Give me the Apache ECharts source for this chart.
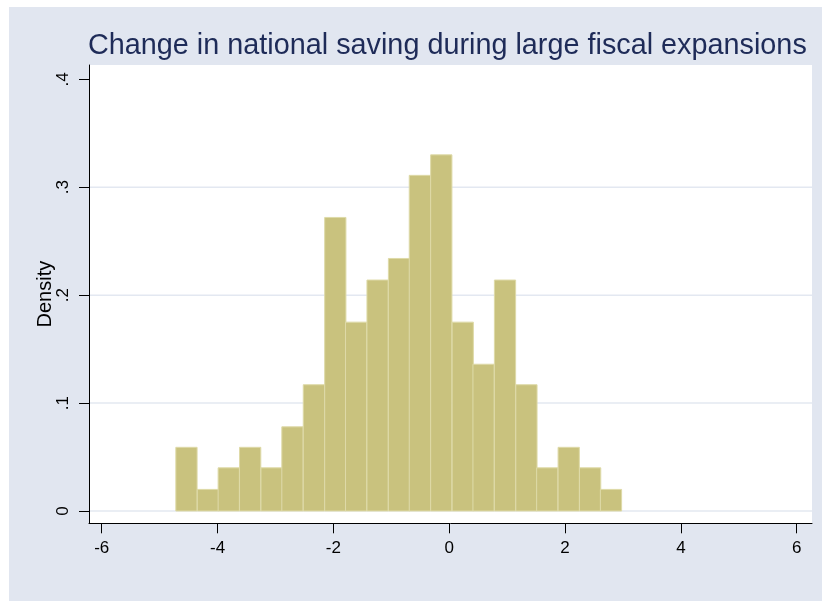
<!DOCTYPE html>
<html>
<head>
<meta charset="utf-8">
<script src="https://cdn.jsdelivr.net/npm/echarts@6/dist/echarts.min.js"></script>
<style>
html,body{margin:0;padding:0;background:#ffffff;}
#chart{width:822px;height:601px;}
</style>
</head>
<body>
<div id="chart"></div>
<script>
// ---- data ----
const titleText = 'Change in national saving during large fiscal expansions';
const yAxisTitle = 'Density';
const binStarts = [-4.72, -4.35, -3.99, -3.62, -3.25, -2.89, -2.52, -2.15, -1.79, -1.42, -1.05,
                   -0.69, -0.32, 0.05, 0.41, 0.78, 1.15, 1.51, 1.88, 2.25, 2.61];
const binWidth = 0.367;
const densities = [0.059, 0.020, 0.040, 0.059, 0.040, 0.078, 0.117, 0.272, 0.175, 0.214, 0.234,
                   0.311, 0.330, 0.175, 0.136, 0.214, 0.117, 0.040, 0.059, 0.040, 0.020];
const xTicks = [-6, -4, -2, 0, 2, 4, 6];
const yTicks = [0, 0.1, 0.2, 0.3, 0.4];
const yTickLabels = ['0', '.1', '.2', '.3', '.4'];
const gridLineValues = [0, 0.1, 0.2, 0.3];

// ---- layout ----
const FONT = '"Liberation Sans", Arial, sans-serif';
const plotL = 89, plotR = 812, plotT = 65, plotB = 523.3;     // white plot region
const dataL = 101.7, dataR = 796.7, dataT = 79.3, dataB = 511; // pixel spots of -6, 6, .4, 0
const W = 822, H = 601;
const pxX = (dataR - dataL) / (xTicks[xTicks.length - 1] - xTicks[0]);
const pxY = (dataB - dataT) / (yTicks[yTicks.length - 1] - yTicks[0]);
const xMin = xTicks[0] - (dataL - plotL) / pxX;
const xMax = xTicks[xTicks.length - 1] + (plotR - dataR) / pxX;
const yMin = yTicks[0] - (plotB - dataB) / pxY;
const yMax = yTicks[yTicks.length - 1] + (dataT - plotT) / pxY;

const chart = echarts.init(document.getElementById('chart'), null, {renderer: 'canvas'});

const barData = binStarts.map((s, i) => [s, s + binWidth, densities[i]]);

chart.setOption({
  animation: false,
  backgroundColor: '#ffffff',
  graphic: [{
    type: 'rect', z: -100, silent: true,
    shape: {x: 9, y: 7, width: W - 9, height: H - 7},
    style: {fill: '#E1E6F0'}
  }],
  title: {
    text: titleText,
    left: 83, top: 27,
    textStyle: {fontFamily: FONT, fontSize: 28.8, fontWeight: 'normal', color: '#1E2B58'}
  },
  grid: {
    left: plotL, right: W - plotR, top: plotT, bottom: H - plotB, show: true,
    backgroundColor: '#ffffff', borderWidth: 0, containLabel: false
  },
  xAxis: {
    type: 'value', min: xMin, max: xMax,
    axisLine: {show: true, onZero: false, lineStyle: {color: '#000', width: 1}},
    axisTick: {show: true, length: 10, customValues: xTicks, lineStyle: {color: '#000', width: 1}},
    axisLabel: {show: true, customValues: xTicks, margin: 17, color: '#000', fontFamily: FONT, fontSize: 17},
    splitLine: {show: false}
  },
  yAxis: {
    type: 'value', min: yMin, max: yMax,
    name: yAxisTitle, nameLocation: 'middle', nameGap: 34, nameMoveOverlap: false,
    nameTextStyle: {fontFamily: FONT, fontSize: 20, color: '#000'},
    axisLine: {show: true, onZero: false, lineStyle: {color: '#000', width: 1}},
    axisTick: {show: true, length: 10, customValues: yTicks, lineStyle: {color: '#000', width: 1}},
    axisLabel: {
      show: true, customValues: yTicks, rotate: 90, margin: 17, color: '#000', fontFamily: FONT, fontSize: 17,
      formatter: v => {
        const i = yTicks.findIndex(t => Math.abs(t - v) < 1e-9);
        return i >= 0 ? yTickLabels[i] : '';
      }
    },
    splitLine: {show: false}
  },
  series: [
    {
      type: 'custom', z: 1, silent: true,
      data: gridLineValues.map(v => [v]),
      renderItem: (params, api) => {
        const cs = params.coordSys;
        const y = api.coord([xMin, api.value(0)])[1];
        return {
          type: 'line',
          shape: {x1: cs.x + 1, y1: y, x2: cs.x + cs.width, y2: y},
          style: {stroke: '#E3E8F1', lineWidth: 1.5}
        };
      }
    },
    {
      type: 'custom', z: 3,
      data: barData,
      renderItem: (params, api) => {
        const p0 = api.coord([api.value(0), api.value(2)]);
        const p1 = api.coord([api.value(1), 0]);
        return {
          type: 'rect',
          shape: {x: p0[0], y: p0[1], width: p1[0] - p0[0], height: p1[1] - p0[1]},
          style: {fill: '#C9C27E', stroke: '#DEDAA8', lineWidth: 1}
        };
      }
    }
  ]
});
</script>
</body>
</html>
